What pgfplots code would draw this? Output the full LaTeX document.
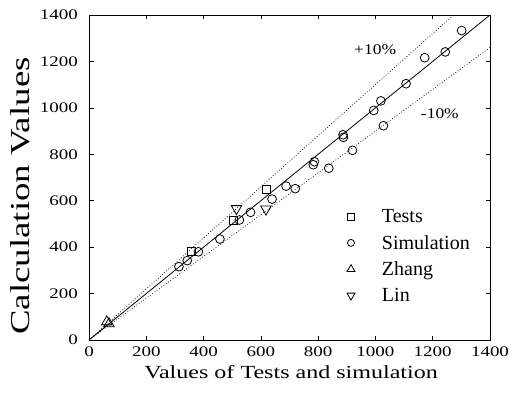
\documentclass[border=0pt]{standalone}
\usepackage{fontspec}
\setmainfont{Liberation Serif}
\newfontfamily\stA{Liberation Serif}[FakeStretch=1.3]
\newfontfamily\stB{Liberation Serif}[FakeStretch=1.35]
\newfontfamily\stC{Liberation Serif}[FakeStretch=1.18]
\usepackage{pgfplots}
\pgfplotsset{compat=1.18}
\newcommand\lf[1]{\fontsize{20}{22}\selectfont\rule[-4.5pt]{0pt}{18pt}#1}
\pgfplotsset{mymarks/.style={only marks,
  legend image code/.code={\path[draw=none,fill=none] (0pt,-1pt) rectangle (33pt,1pt);\path[##1,mark size=#1] plot coordinates {(4pt,0pt)};}},
  mymarks/.default=3.5pt}
\begin{document}
\begin{tikzpicture}
\begin{axis}[
  name=ax,
  scale only axis,
  width=401pt, height=325pt,
  xmin=0, xmax=1400, ymin=0, ymax=1400,
  xtick={0,200,...,1400}, ytick={0,200,...,1400},
  tick align=inside,
  major tick length=4.5pt,
  axis line style={line width=0.9pt},
  every tick/.style={line width=0.7pt, black},
  /pgf/number format/assume math mode=true,
  /pgf/number format/1000 sep={},
  ticklabel style={font=\stA\fontsize{14.6}{16}\selectfont, inner sep=0pt},
  xticklabel style={yshift=-7pt},
  yticklabel style={xshift=-11pt},
  xlabel={Values of Tests and simulation},
  ylabel={Calculation Values},
  xlabel style={at={(axis description cs:0.504,0)}, anchor=north, yshift=-25pt, inner sep=0pt, font=\stA\fontsize{18.5}{20}\selectfont},
  ylabel style={at={(axis description cs:0,0.443)}, anchor=north, yshift=79pt, inner sep=0pt, font=\stB\fontsize{27.3}{30}\selectfont},
  legend style={at={(axis cs:900,573)}, anchor=north west, draw=none, fill=none,
    inner sep=0pt, row sep=7pt},
  legend cell align=left,
]
\addplot[black, line width=0.8pt, forget plot] coordinates {(0,0) (1400,1400)};
\addplot[black, line width=0.7pt, dash pattern=on 0.8pt off 2pt, forget plot] coordinates {(0,0) (1272.7,1400)};
\addplot[black, line width=0.7pt, dash pattern=on 0.8pt off 2pt, forget plot] coordinates {(0,0) (1400,1260)};

\addplot[mymarks, mark=square, mark size=4pt, mark options={black, line width=0.8pt}] coordinates {
(356,382) (505,517) (620,650)};
\addlegendentry{\lf{Tests}}
\addplot[mymarks, mark=o, mark size=4.4pt, mark options={black, line width=0.8pt}] coordinates {
(314,316) (343,342) (382,380) (457,435) (525,517) (564,550) (639,607) (688,663)
(720,652) (783,755) (787,768) (837,740) (888,873) (887,884) (920,817) (994,989)
(1019,1030) (1028,923) (1107,1104) (1172,1216) (1244,1241) (1301,1333)};
\addlegendentry{\lf{Simulation}}
\addplot[mymarks=4.6pt, mark=triangle, mark size=6pt, mark options={black, line width=0.8pt}] coordinates {
(62,78) (70,70)};
\addlegendentry{\lf{Zhang}}
\addplot[mymarks=4.6pt, mark=triangle, mark size=6pt, mark options={black, line width=0.8pt, rotate=180}] coordinates {
(515,566) (618,564)};
\addlegendentry{\lf{Lin}}

\node[font=\stC\fontsize{14.8}{16}\selectfont, inner sep=0pt] at (axis cs:999,1249) {+10\%};
\node[font=\stC\fontsize{14.8}{16}\selectfont, inner sep=0pt] at (axis cs:1225,974) {-10\%};
\end{axis}
\path ([shift={(-89pt,-57pt)}]ax.south west) rectangle ([shift={(20pt,15pt)}]ax.north east);
\end{tikzpicture}
\end{document}
